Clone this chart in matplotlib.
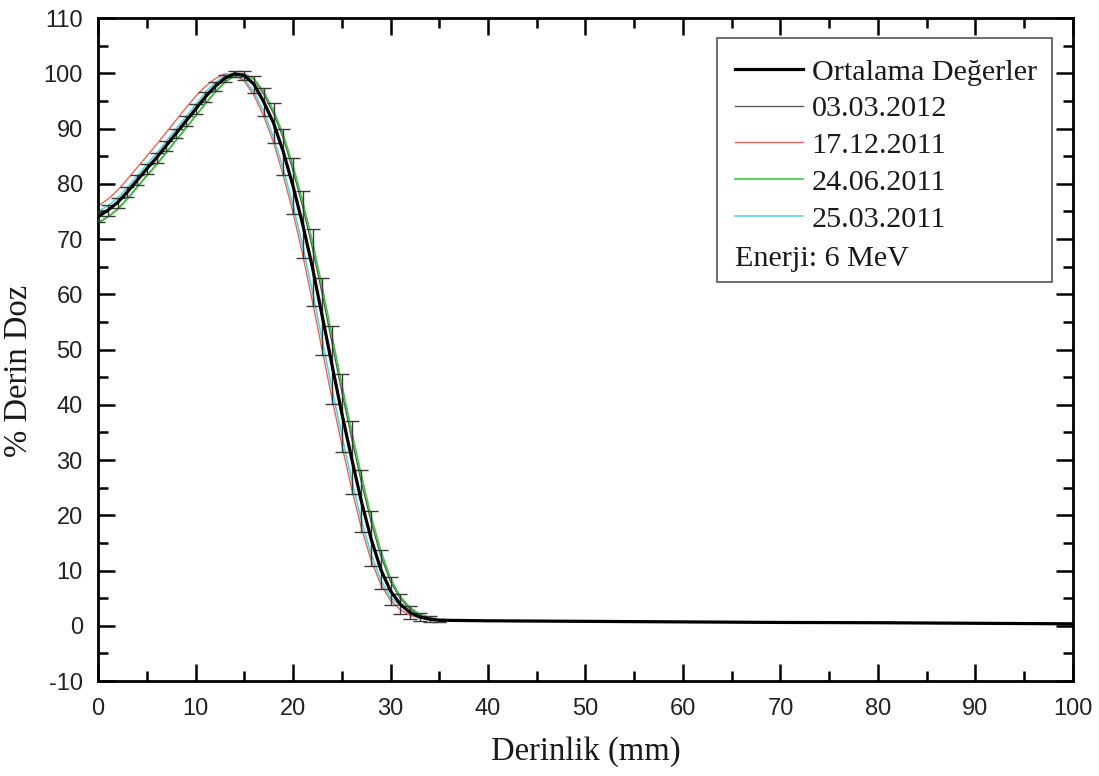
import matplotlib
matplotlib.use("Agg")
import matplotlib.pyplot as plt
from matplotlib.ticker import MultipleLocator
from matplotlib.patches import Rectangle

plt.rcParams["axes.unicode_minus"] = False

# Depth (mm)
depth = [0, 1, 2, 3, 4, 5, 6, 7, 8, 9, 10, 11, 12, 13, 14, 15, 16, 17, 18, 19,
         20, 21, 22, 23, 24, 25, 26, 27, 28, 29, 30, 31, 32, 33, 34, 35,
         40, 50, 60, 70, 80, 90, 100]

# Mean percent depth dose and its spread
mean_dose = [74.0, 75.2, 76.6, 78.5, 80.6, 82.7, 84.7, 86.9, 89.1, 91.3, 93.5,
             95.7, 97.6, 99.1, 99.9, 99.6, 98.0, 94.8, 91.0, 85.8, 79.6, 72.6,
             64.8, 56.0, 47.2, 38.5, 30.4, 22.6, 15.8, 10.2, 6.3, 3.9, 2.4,
             1.6, 1.2, 1.0, 0.9, 0.8, 0.7, 0.6, 0.55, 0.45, 0.35]
mean_err = [1.0, 1.0, 0.9, 0.9, 0.9, 0.9, 0.9, 0.9, 0.9, 0.9, 0.9, 0.9, 0.8,
            0.6, 0.5, 0.8, 1.5, 2.6, 3.6, 4.2, 5.1, 6.1, 7.0, 7.0, 7.1, 7.0,
            6.6, 5.6, 5.0, 3.6, 2.5, 1.8, 1.2, 0.8, 0.5, 0.3,
            0.0, 0.0, 0.0, 0.0, 0.0, 0.0, 0.0]

# Individual measurement dates
dose_20120303 = [72.8, 74.0, 75.4, 77.3, 79.4, 81.5, 83.5, 85.7, 87.9, 90.1,
                 92.3, 94.5, 96.6, 98.4, 99.6, 99.9, 98.9, 96.2, 92.7, 88.3,
                 82.4, 75.8, 68.3, 60.0, 51.2, 42.4, 34.1, 26.1, 18.9, 12.7,
                 8.0, 4.9, 3.0, 2.0, 1.4, 1.1, 0.9, 0.8, 0.7, 0.6, 0.55, 0.45,
                 0.35]
dose_20111217 = [76.0, 77.2, 78.8, 80.8, 82.9, 85.0, 87.1, 89.3, 91.5, 93.7,
                 95.8, 97.6, 99.0, 99.9, 99.7, 98.6, 96.0, 92.2, 87.5, 81.5,
                 74.8, 67.1, 58.6, 49.8, 41.1, 32.8, 24.9, 17.8, 11.9, 7.5,
                 4.6, 2.9, 1.9, 1.4, 1.1, 0.95, 0.9, 0.8, 0.7, 0.6, 0.55, 0.45,
                 0.35]
dose_20110624 = [73.0, 74.0, 75.3, 77.2, 79.3, 81.4, 83.4, 85.6, 87.8, 90.0,
                 92.2, 94.4, 96.5, 98.3, 99.5, 99.9, 99.0, 96.7, 93.3, 88.9,
                 83.3, 76.8, 69.5, 61.3, 52.5, 43.7, 35.3, 27.3, 19.9, 13.6,
                 8.6, 5.3, 3.3, 2.1, 1.5, 1.1, 0.9, 0.8, 0.7, 0.6, 0.55, 0.45,
                 0.35]
dose_20110325 = [75.0, 76.0, 77.4, 79.3, 81.4, 83.5, 85.5, 87.7, 89.9, 92.1,
                 94.3, 96.5, 98.3, 99.6, 99.9, 99.0, 96.6, 93.0, 88.4, 82.7,
                 76.1, 68.7, 60.4, 51.6, 42.9, 34.5, 26.5, 19.2, 13.0, 8.3,
                 5.1, 3.6, 2.4, 1.7, 1.3, 1.0, 0.9, 0.8, 0.7, 0.6, 0.55, 0.45,
                 0.35]

labels = ["Ortalama Değerler", "03.03.2012", "17.12.2011", "24.06.2011",
          "25.03.2011"]
energy_note = "Enerji: 6 MeV"

fig = plt.figure(figsize=(10.99, 7.76), dpi=100)
ax = fig.add_axes([0.0892, 0.1224, 0.8871, 0.8544])

serif = "Liberation Serif"
sans = "Liberation Sans"

l_gray, = ax.plot(depth, dose_20120303, color="#5a5a5a", lw=1.0, zorder=2)
l_red, = ax.plot(depth, dose_20111217, color="#e0685a", lw=1.0, zorder=2)
l_green, = ax.plot(depth, dose_20110624, color="#3fc83f", lw=1.2, zorder=2)
l_cyan, = ax.plot(depth, dose_20110325, color="#5cd3dc", lw=1.2, zorder=2)

n_bar = 36
ax.errorbar(depth[:n_bar], mean_dose[:n_bar], yerr=mean_err[:n_bar],
            fmt="none", ecolor="#3a3a3a", elinewidth=1.0, capsize=5,
            capthick=1.0, zorder=3)
l_mean, = ax.plot(depth, mean_dose, color="black", lw=2.3, zorder=4)

ax.set_xlim(0, 100)
ax.set_ylim(-10, 110)
ax.xaxis.set_major_locator(MultipleLocator(10))
ax.xaxis.set_minor_locator(MultipleLocator(5))
ax.yaxis.set_major_locator(MultipleLocator(10))
ax.yaxis.set_minor_locator(MultipleLocator(5))
ax.tick_params(which="both", direction="in", top=True, right=True,
               width=1.8, labelsize=17)
ax.tick_params(axis="x", pad=12)
ax.tick_params(axis="y", pad=11)
ax.tick_params(which="major", length=12)
ax.tick_params(which="minor", length=7)
for lab in ax.get_xticklabels() + ax.get_yticklabels():
    lab.set_fontfamily(sans)
    lab.set_color("#222222")
for sp in ax.spines.values():
    sp.set_linewidth(2.0)

ax.set_xlabel("Derinlik (mm)", fontfamily=serif, fontsize=23.5, labelpad=12,
              color="#1a1a1a")
ax.set_ylabel("% Derin Doz", fontfamily=serif, fontsize=23.5,
              color="#1a1a1a")
ax.yaxis.set_label_coords(-0.066, 0.468)

# Legend frame, entries and energy note
ax.add_patch(Rectangle((0.635, 0.602), 0.343, 0.368, transform=ax.transAxes,
                       fill=False, edgecolor="#555555", lw=1.2, zorder=5))
leg = ax.legend([l_mean, l_gray, l_red, l_green, l_cyan], labels,
                loc="upper left", bbox_to_anchor=(0.653, 0.939),
                frameon=False, borderpad=0, borderaxespad=0,
                handlelength=2.26, handletextpad=0.3, labelspacing=0.32,
                prop={"family": serif, "size": 21.7})
for t in leg.get_texts():
    t.set_color("#1a1a1a")
ax.text(0.653, 0.637, energy_note, transform=ax.transAxes, fontfamily=serif,
        fontsize=21.7, color="#1a1a1a", va="center", ha="left")

fig.savefig("out.png", dpi=100)
